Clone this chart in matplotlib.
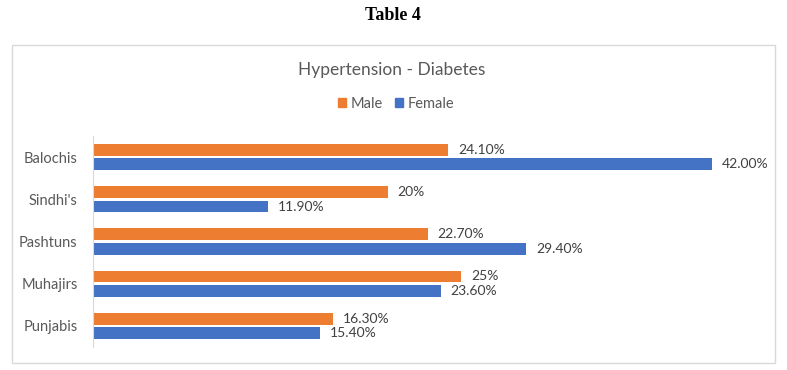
import matplotlib
matplotlib.use("Agg")
import matplotlib.pyplot as plt
from matplotlib.patches import Rectangle, Patch

categories = ["Punjabis", "Muhajirs", "Pashtuns", "Sindhi's", "Balochis"]
male = [16.3, 25.0, 22.7, 20.0, 24.1]
female = [15.4, 23.6, 29.4, 11.9, 42.0]
male_labels = ["16.30%", "25%", "22.70%", "20%", "24.10%"]
female_labels = ["15.40%", "23.60%", "29.40%", "11.90%", "42.00%"]

W, H = 787, 370
fig = plt.figure(figsize=(W / 100, H / 100), dpi=100)
FONT = ["Lato", "DejaVu Sans"]
ORANGE = "#ED7D31"
BLUE = "#4472C4"
GRAY = "#595959"

# outer chart border
fig.patches.append(Rectangle((12 / W, 1 - 363 / H), (775 - 12) / W, (363 - 45) / H,
                             transform=fig.transFigure, fill=False,
                             edgecolor="#d9d9d9", linewidth=1.0))

fig.text(393 / W, 1 - 16 / H, "Table 4", ha="center", va="center",
         fontsize=13, fontweight="bold", family=["Liberation Serif", "DejaVu Serif"])
fig.text(392 / W, 1 - 70 / H, "Hypertension - Diabetes", ha="center", va="center",
         fontsize=12.5, color=GRAY, family=FONT)

ax_left, ax_top, ax_bottom = 93, 136, 347
px_per = (712 - 93) / 42.0
xmax = 45
ax = fig.add_axes([ax_left / W, 1 - ax_bottom / H, xmax * px_per / W, (ax_bottom - ax_top) / H])

y = list(range(len(categories)))
off = 0.172
h = 0.28
ax.barh([v + off for v in y], male, height=h, color=ORANGE, label="Male")
ax.barh([v - off for v in y], female, height=h, color=BLUE, label="Female")

for i in y:
    ax.annotate(male_labels[i], (male[i], i + off), xytext=(7, 0), textcoords="offset points",
                va="center", ha="left", fontsize=10, color="#404040", family=FONT)
    ax.annotate(female_labels[i], (female[i], i - off), xytext=(7, 0), textcoords="offset points",
                va="center", ha="left", fontsize=10, color="#404040", family=FONT)

ax.set_xlim(0, xmax)
ax.set_ylim(-0.5, len(categories) - 0.5)
ax.set_yticks(y)
ax.set_yticklabels(categories, fontsize=10.5, color=GRAY, family=FONT)
ax.tick_params(axis="y", length=0, pad=11)
ax.set_xticks([])
for s in ["top", "right", "bottom"]:
    ax.spines[s].set_visible(False)
ax.spines["left"].set_color("#d9d9d9")
ax.patch.set_alpha(0)

handles = [Patch(color=ORANGE, label="Male"), Patch(color=BLUE, label="Female")]
fig.legend(handles=handles, loc="center", bbox_to_anchor=(396 / W, 1 - 104 / H), ncol=2,
           frameon=False, handlelength=0.6, handleheight=0.6, handletextpad=0.3,
           columnspacing=0.8, prop={"family": FONT, "size": 10.5}, labelcolor=GRAY)

fig.savefig("out.png", dpi=100)
